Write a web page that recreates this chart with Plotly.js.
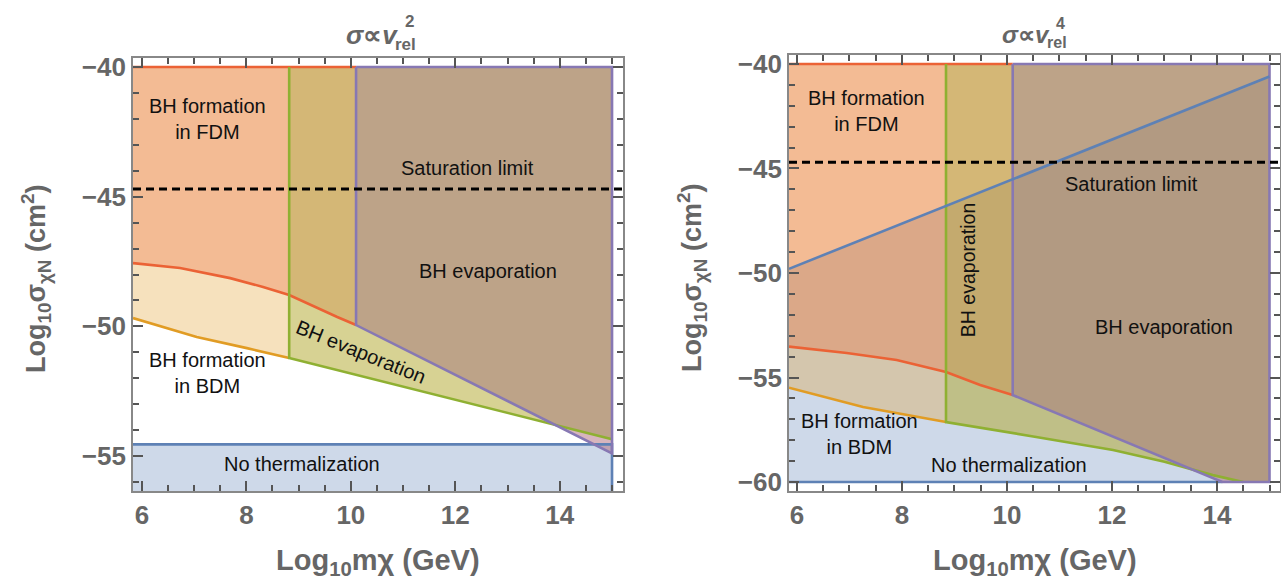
<!DOCTYPE html>
<html><head><meta charset="utf-8">
<script src="https://cdn.plot.ly/plotly-3.0.1.min.js"></script>
<style>html,body{margin:0;padding:0;background:#fff}</style>
</head><body>
<div id="chart" style="width:1281px;height:580px"></div>
<script>
// ================= DATA =================
// Panel 1: sigma ∝ v_rel^2   (x = log10 m_chi [GeV], y = log10 sigma [cm^2])
const v2RedX    = [5.83, 6.73, 7.69, 8.32, 8.82, 9.35, 9.74, 10.1];
const v2RedY    = [-47.56, -47.75, -48.14, -48.48, -48.79, -49.29, -49.64, -49.95];
const v2OrangeX = [5.83, 7.05, 8.01, 8.82];
const v2OrangeY = [-49.68, -50.41, -50.84, -51.22];
const v2GreenX  = [8.82, 15.0];
const v2GreenY  = [-51.22, -54.35];
const v2PurpleX = [10.1, 15.0];
const v2PurpleY = [-49.95, -54.9];
const v2NoTherm = -54.55;
const v2Saturation = -44.7;

// Panel 2: sigma ∝ v_rel^4
const v4BlueX   = [5.85, 15.0];
const v4BlueY   = [-49.8, -40.6];
const v4RedX    = [5.85, 6.95, 7.9, 8.84, 9.49, 10.11];
const v4RedY    = [-53.52, -53.83, -54.16, -54.74, -55.36, -55.84];
const v4OrangeX = [5.85, 7.26, 8.84];
const v4OrangeY = [-55.49, -56.41, -57.13];
const v4GreenX  = [8.84, 10.5, 12.02, 13.0, 13.92, 14.5];
const v4GreenY  = [-57.13, -57.82, -58.47, -59.03, -59.67, -60.0];
const v4PurpleX = [10.11, 14.1];
const v4PurpleY = [-55.84, -60.0];
const v4Bottom  = -60.0;
const v4Saturation = -44.7;

const sigmaTop = -40;   // upper boundary of all regions
const mMax = 15;        // right boundary of all regions

// tick spacing
const xMajor = 2, xMinor = 0.5, yMajor = 5, yMinor = 1;

// ================= STYLE =================
const COL = {blue:'#5E81B5', orange:'#E19C24', green:'#8FB032', red:'#EB6235', purple:'#8778B3'};
function rgba(hex, a){const n=parseInt(hex.slice(1),16);return `rgba(${n>>16},${(n>>8)&255},${n&255},${a})`;}
const ALPHA = 0.3, LW = 2.6;
const FONT = 'Liberation Sans, Arial, Helvetica, sans-serif';
const W = 1281, H = 580;
const PX = p => p / W, PY = p => 1 - p / H;

const r1x = [5.83, 15.21], r1y = [-56.35, -39.65];
const r2x = [5.85, 15.2],  r2y = [-60.43, -39.57];

function fill(xs, ys, color, xa, ya){
  return {type:'scatter', mode:'lines', x:xs, y:ys, fill:'toself', fillcolor:rgba(color, ALPHA),
          line:{width:0, color:'rgba(0,0,0,0)'}, hoverinfo:'skip', xaxis:xa, yaxis:ya, showlegend:false};
}
function line(xs, ys, color, xa, ya, dash){
  return {type:'scatter', mode:'lines', x:xs, y:ys, line:{color:color, width: dash?3:LW, dash: dash||'solid'},
          hoverinfo:'skip', xaxis:xa, yaxis:ya, showlegend:false};
}

const traces = [];
// ---------- Panel 1 regions ----------
{
  const xa='x', ya='y', x0=r1x[0], yb=r1y[0];
  traces.push(fill([x0, mMax, mMax, x0], [v2NoTherm, v2NoTherm, yb, yb], COL.blue, xa, ya));
  traces.push(fill([...v2OrangeX, ...v2GreenX, mMax, v2OrangeX[0]],
                   [...v2OrangeY, ...v2GreenY, sigmaTop, sigmaTop], COL.orange, xa, ya));
  traces.push(fill([...v2RedX, ...v2PurpleX, mMax, v2RedX[0]],
                   [...v2RedY, ...v2PurpleY, sigmaTop, sigmaTop], COL.red, xa, ya));
  traces.push(fill([...v2GreenX, mMax, v2GreenX[0]], [...v2GreenY, sigmaTop, sigmaTop], COL.green, xa, ya));
  traces.push(fill([...v2PurpleX, mMax, v2PurpleX[0]], [...v2PurpleY, sigmaTop, sigmaTop], COL.purple, xa, ya));
  // boundaries
  traces.push(line([x0, mMax, mMax], [v2NoTherm, v2NoTherm, yb], COL.blue, xa, ya));
  traces.push(line(v2OrangeX, v2OrangeY, COL.orange, xa, ya));
  traces.push(line(v2RedX, v2RedY, COL.red, xa, ya));
  traces.push(line([x0, v2PurpleX[0]], [sigmaTop, sigmaTop], COL.red, xa, ya));
  traces.push(line([v2GreenX[0], ...v2GreenX], [sigmaTop, ...v2GreenY], COL.green, xa, ya));
  traces.push(line([v2PurpleX[0], ...v2PurpleX, mMax, v2PurpleX[0]],
                   [sigmaTop, ...v2PurpleY, sigmaTop, sigmaTop], COL.purple, xa, ya));
  traces.push(line(r1x, [v2Saturation, v2Saturation], '#000', xa, ya, '8px,5px'));
}
// ---------- Panel 2 regions ----------
{
  const xa='x2', ya='y2', x0=r2x[0];
  traces.push(fill([...v4BlueX, mMax, v4BlueX[0]], [...v4BlueY, v4Bottom, v4Bottom], COL.blue, xa, ya));
  traces.push(fill([...v4OrangeX, ...v4GreenX, mMax, mMax, v4OrangeX[0]],
                   [...v4OrangeY, ...v4GreenY, v4Bottom, sigmaTop, sigmaTop], COL.orange, xa, ya));
  traces.push(fill([...v4RedX, ...v4PurpleX, mMax, mMax, v4RedX[0]],
                   [...v4RedY, ...v4PurpleY, v4Bottom, sigmaTop, sigmaTop], COL.red, xa, ya));
  traces.push(fill([...v4GreenX, mMax, mMax, v4GreenX[0]],
                   [...v4GreenY, v4Bottom, sigmaTop, sigmaTop], COL.green, xa, ya));
  traces.push(fill([...v4PurpleX, mMax, mMax, v4PurpleX[0]],
                   [...v4PurpleY, v4Bottom, sigmaTop, sigmaTop], COL.purple, xa, ya));
  // boundaries
  traces.push(line([v4BlueX[0], v4PurpleX[1]], [v4Bottom, v4Bottom], COL.blue, xa, ya));
  traces.push(line(v4OrangeX, v4OrangeY, COL.orange, xa, ya));
  traces.push(line(v4RedX, v4RedY, COL.red, xa, ya));
  traces.push(line([x0, v4PurpleX[0]], [sigmaTop, sigmaTop], COL.red, xa, ya));
  traces.push(line([v4GreenX[0], ...v4GreenX], [sigmaTop, ...v4GreenY], COL.green, xa, ya));
  traces.push(line([v4PurpleX[0], ...v4PurpleX, mMax, mMax, v4PurpleX[0]],
                   [sigmaTop, ...v4PurpleY, v4Bottom, sigmaTop, sigmaTop], COL.purple, xa, ya));
  traces.push(line(v4BlueX, v4BlueY, COL.blue, xa, ya));
  traces.push(line(r2x, [v4Saturation, v4Saturation], '#000', xa, ya, '8px,5px'));
}

// ================= AXES =================
function axis(domain, range, tick0, dtick, dtickMinor, anchor){
  return {domain, range, anchor, tickmode:'linear', tick0, dtick, ticks:'inside', ticklen:10, tickwidth:2,
          tickcolor:'#555', showline:true, linecolor:'#888', linewidth:1.8, mirror:'allticks',
          showgrid:false, zeroline:false,
          tickfont:{family:FONT, size:26, color:'#666', weight:'bold'},
          minor:{dtick:dtickMinor, ticks:'inside', ticklen:6, tickwidth:1.6, tickcolor:'#555'}};
}

const lab = (x, y, text, xa, ya, extra) => Object.assign({x, y, xref:xa, yref:ya, text, showarrow:false,
  font:{family:FONT, size:20, color:'#111'}, align:'center'}, extra||{});
const pap = (x, y, text, size, extra) => Object.assign({x:PX(x), y:PY(y), xref:'paper', yref:'paper', text,
  showarrow:false, font:{family:FONT, size, color:'#666'}}, extra||{});

const annotations = [
  // panel 1 labels
  lab(7.25, -42.0, 'BH formation<br>in FDM', 'x', 'y'),
  lab(12.23, -43.9, 'Saturation limit', 'x', 'y'),
  lab(12.63, -47.87, 'BH evaporation', 'x', 'y'),
  lab(10.2, -50.99, 'BH evaporation', 'x', 'y', {textangle:22}),
  lab(7.25, -51.8, 'BH formation<br>in BDM', 'x', 'y'),
  lab(9.07, -55.31, 'No thermalization', 'x', 'y'),
  // panel 2 labels
  lab(7.33, -42.25, 'BH formation<br>in FDM', 'x2', 'y2'),
  lab(12.38, -45.74, 'Saturation limit', 'x2', 'y2'),
  lab(9.26, -49.86, 'BH evaporation', 'x2', 'y2', {textangle:-90, font:{family:FONT, size:19.5, color:'#111'}}),
  lab(12.99, -52.58, 'BH evaporation', 'x2', 'y2'),
  lab(7.2, -57.7, 'BH formation<br>in BDM', 'x2', 'y2'),
  lab(10.04, -59.19, 'No thermalization', 'x2', 'y2'),
  // titles
  pap(400, 35, '<b><i>σ</i>∝<i>v</i></b>', 26, {xanchor:'right', yanchor:'middle'}),
  pap(403, 22, '<b>2</b>', 17, {xanchor:'left', yanchor:'middle'}),
  pap(393, 45, '<b>rel</b>', 17, {xanchor:'left', yanchor:'middle'}),
  pap(1052, 35, '<b><i>σ</i>∝<i>v</i></b>', 24, {xanchor:'right', yanchor:'middle'}),
  pap(1054, 23, '<b>4</b>', 16, {xanchor:'left', yanchor:'middle'}),
  pap(1045, 43, '<b>rel</b>', 16, {xanchor:'left', yanchor:'middle'}),
  // axis titles
  pap(378, 562, '<b>Log<sub>10</sub>mχ (GeV)</b>', 29, {xanchor:'center', yanchor:'middle'}),
  pap(1035, 562, '<b>Log<sub>10</sub>mχ (GeV)</b>', 29, {xanchor:'center', yanchor:'middle'}),
  pap(36, 279, '<b>Log<sub>10</sub>σ<sub>χN</sub> (cm<sup>2</sup>)</b>', 27, {xanchor:'center', yanchor:'middle', textangle:-90}),
  pap(692, 278, '<b>Log<sub>10</sub>σ<sub>χN</sub> (cm<sup>2</sup>)</b>', 27, {xanchor:'center', yanchor:'middle', textangle:-90}),
];

const layout = {
  width:W, height:H, margin:{l:0, r:0, t:0, b:0}, paper_bgcolor:'#fff', plot_bgcolor:'#fff',
  showlegend:false, hovermode:false,
  xaxis:  axis([PX(133), PX(623)], r1x, 6, xMajor, xMinor, 'y'),
  yaxis:  axis([PY(491), PY(58)], r1y, -40, yMajor, yMinor, 'x'),
  xaxis2: axis([PX(789), PX(1280)], r2x, 6, xMajor, xMinor, 'y2'),
  yaxis2: axis([PY(491), PY(55)], r2y, -40, yMajor, yMinor, 'x2'),
  annotations
};

Plotly.newPlot('chart', traces, layout, {displayModeBar:false});
</script>
</body></html>
